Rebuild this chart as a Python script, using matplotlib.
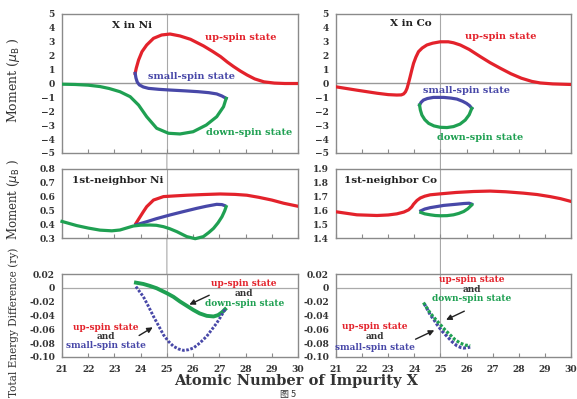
import matplotlib
matplotlib.use("Agg")
import matplotlib.pyplot as plt
from matplotlib.patches import ConnectionPatch

RED = "#e3222b"
BLUE = "#4848a8"
GREEN = "#1fa052"

# ---- X in Ni (impurity moment) ----
ni_up_x = [23.79, 23.83, 23.92, 24.05, 24.23, 24.49, 24.8, 25.12, 25.5, 25.9, 26.4, 26.75, 27.05, 27.3, 27.55, 27.8, 28.06, 28.35, 28.7, 29.1, 29.5, 30.0]
ni_up_y = [0.73, 1.09, 1.69, 2.29, 2.77, 3.25, 3.49, 3.56, 3.42, 3.18, 2.7, 2.3, 1.93, 1.55, 1.21, 0.9, 0.61, 0.33, 0.12, 0.03, 0.0, 0.0]
ni_small_x = [23.79, 23.82, 23.87, 23.95, 24.1, 24.3, 24.7, 25.12, 25.7, 26.2, 26.6, 26.9, 27.1, 27.26]
ni_small_y = [0.73, 0.4, 0.1, -0.1, -0.25, -0.35, -0.42, -0.47, -0.53, -0.59, -0.66, -0.75, -0.9, -1.07]
ni_down_x = [21.0, 21.5, 22.0, 22.45, 22.8, 23.21, 23.6, 23.92, 24.23, 24.61, 25.06, 25.5, 26.0, 26.5, 26.9, 27.16, 27.26]
ni_down_y = [-0.05, -0.07, -0.12, -0.22, -0.36, -0.59, -0.95, -1.55, -2.39, -3.22, -3.58, -3.63, -3.47, -2.99, -2.39, -1.67, -1.07]

# ---- X in Co (impurity moment) ----
co_up_x = [21.0, 21.8, 22.57, 23.0, 23.33, 23.5, 23.59, 23.66, 23.72, 23.78, 23.84, 23.9, 23.97, 24.06, 24.16, 24.3, 24.48, 24.7, 24.99, 25.3, 25.5, 25.76, 26.1, 26.53, 26.9, 27.3, 27.7, 28.1, 28.5, 28.82, 29.3, 30.0]
co_up_y = [-0.24, -0.48, -0.7, -0.8, -0.83, -0.82, -0.75, -0.6, -0.35, 0.05, 0.49, 0.95, 1.45, 1.9, 2.29, 2.55, 2.77, 2.9, 3.0, 3.0, 2.93, 2.77, 2.45, 1.93, 1.5, 1.09, 0.7, 0.38, 0.15, 0.04, -0.03, -0.07]
co_small_x = [24.2, 24.26, 24.35, 24.5, 24.73, 25.12, 25.4, 25.63, 25.85, 26.0, 26.12, 26.2]
co_small_y = [-1.55, -1.35, -1.19, -1.08, -1.0, -1.0, -1.05, -1.12, -1.28, -1.43, -1.6, -1.79]
co_down_x = [24.2, 24.23, 24.29, 24.4, 24.55, 24.75, 24.99, 25.25, 25.5, 25.75, 25.95, 26.1, 26.2]
co_down_y = [-1.55, -1.9, -2.27, -2.6, -2.87, -3.05, -3.15, -3.17, -3.1, -2.92, -2.63, -2.25, -1.79]

# ---- 1st-neighbor Ni ----
nn_ni_up_x = [23.82, 23.9, 23.98, 24.1, 24.23, 24.49, 24.87, 25.3, 25.76, 26.4, 27.03, 27.6, 28.05, 28.5, 29.0, 29.45, 30.0]
nn_ni_up_y = [0.406, 0.43, 0.454, 0.49, 0.527, 0.575, 0.60, 0.605, 0.61, 0.615, 0.619, 0.616, 0.61, 0.595, 0.575, 0.552, 0.53]
nn_ni_small_x = [23.82, 24.0, 24.23, 24.6, 25.12, 25.6, 26.14, 26.5, 26.9, 27.1, 27.2]
nn_ni_small_y = [0.395, 0.405, 0.418, 0.44, 0.467, 0.49, 0.515, 0.53, 0.544, 0.542, 0.535]
nn_ni_down_x = [21.0, 21.56, 22.0, 22.45, 22.9, 23.21, 23.72, 24.0, 24.36, 24.6, 24.87, 25.1, 25.38, 25.6, 25.76, 26.08, 26.39, 26.6, 26.78, 26.95, 27.1, 27.2, 27.26]
nn_ni_down_y = [0.42, 0.39, 0.372, 0.357, 0.352, 0.358, 0.387, 0.393, 0.394, 0.392, 0.382, 0.368, 0.346, 0.325, 0.31, 0.295, 0.31, 0.34, 0.37, 0.41, 0.454, 0.495, 0.527]

# ---- 1st-neighbor Co ----
nn_co_up_x = [21.0, 21.8, 22.57, 23.0, 23.33, 23.6, 23.78, 23.9, 23.97, 24.1, 24.23, 24.4, 24.61, 25.0, 25.6, 26.27, 26.9, 27.5, 28.18, 28.7, 29.2, 29.6, 30.0]
nn_co_up_y = [1.59, 1.568, 1.563, 1.567, 1.575, 1.588, 1.604, 1.625, 1.645, 1.672, 1.69, 1.703, 1.713, 1.72, 1.73, 1.737, 1.74, 1.735, 1.725, 1.715, 1.70, 1.685, 1.665]
nn_co_small_x = [24.25, 24.4, 24.61, 24.9, 25.12, 25.4, 25.63, 25.9, 26.1, 26.2]
nn_co_small_y = [1.597, 1.61, 1.62, 1.629, 1.636, 1.641, 1.645, 1.65, 1.652, 1.645]
nn_co_down_x = [24.25, 24.4, 24.61, 24.8, 25.0, 25.25, 25.5, 25.7, 25.89, 26.05, 26.2]
nn_co_down_y = [1.585, 1.575, 1.568, 1.563, 1.561, 1.562, 1.568, 1.578, 1.592, 1.612, 1.64]

# ---- Total energy difference, Ni host ----
en_ni_down_x = [23.82, 24.1, 24.35, 24.61, 25.0, 25.25, 25.5, 25.76, 26.01, 26.25, 26.52, 26.78, 26.95, 27.1, 27.22]
en_ni_down_y = [0.0075, 0.0056, 0.0028, -0.0006, -0.0078, -0.013, -0.0198, -0.026, -0.032, -0.037, -0.0405, -0.0414, -0.0395, -0.0355, -0.031]
en_ni_small_x = [23.82, 23.95, 24.1, 24.3, 24.49, 24.7, 24.87, 25.05, 25.25, 25.45, 25.63, 25.82, 26.01, 26.25, 26.52, 26.7, 26.9, 27.05, 27.22]
en_ni_small_y = [0.0018, -0.005, -0.0126, -0.027, -0.0414, -0.056, -0.068, -0.077, -0.0846, -0.0885, -0.0904, -0.0895, -0.087, -0.08, -0.070, -0.061, -0.051, -0.042, -0.031]

# ---- Total energy difference, Co host ----
en_co_down_x = [24.35, 24.48, 24.61, 24.8, 25.0, 25.18, 25.37, 25.56, 25.76, 25.95, 26.14]
en_co_down_y = [-0.0213, -0.029, -0.0366, -0.045, -0.0534, -0.061, -0.068, -0.075, -0.080, -0.0828, -0.0837]
en_co_small_x = [24.38, 24.5, 24.61, 24.75, 24.87, 25.05, 25.25, 25.45, 25.63, 25.78, 25.89, 26.02, 26.14]
en_co_small_y = [-0.023, -0.031, -0.039, -0.046, -0.053, -0.062, -0.070, -0.078, -0.0837, -0.0862, -0.087, -0.0865, -0.0856]

x_ticks = [21, 22, 23, 24, 25, 26, 27, 28, 29, 30]
top_yticks = [-5, -4, -3, -2, -1, 0, 1, 2, 3, 4, 5]
nn_ni_yticks = [0.3, 0.4, 0.5, 0.6, 0.7, 0.8]
nn_co_yticks = [1.4, 1.5, 1.6, 1.7, 1.8, 1.9]
en_yticks = [-0.10, -0.08, -0.06, -0.04, -0.02, 0, 0.02]
en_yticklabels = ["-0.10", "-0.08", "-0.06", "-0.04", "-0.02", "0", "0.02"]

plt.rcParams['font.family'] = ['DejaVu Serif']
FS_TICK = 6.6
FS_TXT = 7

fig = plt.figure(figsize=(5.77, 3.99), dpi=100)
W, H = 577.0, 399.0

def make_ax(l, r, t, b):
    return fig.add_axes([l / W, 1 - b / H, (r - l) / W, (b - t) / H])

axL = [make_ax(62, 298, 14, 153), make_ax(62, 298, 169, 238), make_ax(62, 298, 274, 357)]
axR = [make_ax(336, 571, 14, 153), make_ax(336, 571, 169, 238), make_ax(336, 571, 274, 357)]

LW = 2.3
for ax in axL + axR:
    ax.set_xlim(21, 30)
    ax.set_xticks(x_ticks)
    for s in ax.spines.values():
        s.set_color("#8a8a8a")
        s.set_linewidth(1.0)
    ax.tick_params(axis='x', direction='in', length=3, color="#8a8a8a", labelsize=FS_TICK, pad=6)
    ax.tick_params(axis='y', length=0, labelsize=FS_TICK, pad=5)
    ax.axvline(25, color="#a8a8a8", lw=0.8, zorder=1)

for ax in axL[:2] + axR[:2]:
    ax.tick_params(axis='x', labelbottom=False)

def style_labels(ax):
    for lab in ax.get_xticklabels() + ax.get_yticklabels():
        lab.set_fontweight('bold')
        lab.set_color("#333333")

# top panels
for ax in (axL[0], axR[0]):
    ax.set_ylim(-5, 5)
    ax.set_yticks(top_yticks)
    ax.axhline(0, color="#999999", lw=1.0, zorder=1)

a = axL[0]
a.plot(ni_up_x, ni_up_y, color=RED, lw=LW, zorder=3)
a.plot(ni_small_x, ni_small_y, color=BLUE, lw=LW, zorder=3)
a.plot(ni_down_x, ni_down_y, color=GREEN, lw=LW, zorder=3)
a.text(22.9, 4.2, "X in Ni", fontsize=FS_TXT + 0.5, fontweight='bold', color="#222222", va='center')
a.text(27.8, 3.32, "up-spin state", fontsize=FS_TXT, fontweight='bold', color=RED, ha='center', va='center')
a.text(25.95, 0.48, "small-spin state", fontsize=FS_TXT, fontweight='bold', color=BLUE, ha='center', va='center')
a.text(28.15, -3.56, "down-spin state", fontsize=FS_TXT, fontweight='bold', color=GREEN, ha='center', va='center')

a = axR[0]
a.plot(co_up_x, co_up_y, color=RED, lw=LW, zorder=3)
a.plot(co_small_x, co_small_y, color=BLUE, lw=LW, zorder=3)
a.plot(co_down_x, co_down_y, color=GREEN, lw=LW, zorder=3)
a.text(23.08, 4.33, "X in Co", fontsize=FS_TXT + 0.5, fontweight='bold', color="#222222", va='center')
a.text(27.32, 3.37, "up-spin state", fontsize=FS_TXT, fontweight='bold', color=RED, ha='center', va='center')
a.text(26.01, -0.53, "small-spin state", fontsize=FS_TXT, fontweight='bold', color=BLUE, ha='center', va='center')
a.text(26.52, -3.92, "down-spin state", fontsize=FS_TXT, fontweight='bold', color=GREEN, ha='center', va='center')

# middle panels
a = axL[1]
a.set_ylim(0.3, 0.8)
a.set_yticks(nn_ni_yticks)
a.plot(nn_ni_up_x, nn_ni_up_y, color=RED, lw=LW, zorder=3)
a.plot(nn_ni_small_x, nn_ni_small_y, color=BLUE, lw=LW, zorder=3)
a.plot(nn_ni_down_x, nn_ni_down_y, color=GREEN, lw=LW, zorder=3, clip_on=False)
a.text(21.37, 0.72, "1st-neighbor Ni", fontsize=FS_TXT + 0.5, fontweight='bold', color="#222222", va='center')

a = axR[1]
a.set_ylim(1.4, 1.9)
a.set_yticks(nn_co_yticks)
a.plot(nn_co_up_x, nn_co_up_y, color=RED, lw=LW, zorder=3)
a.plot(nn_co_small_x, nn_co_small_y, color=BLUE, lw=LW, zorder=3)
a.plot(nn_co_down_x, nn_co_down_y, color=GREEN, lw=LW, zorder=3)
a.text(21.29, 1.82, "1st-neighbor Co", fontsize=FS_TXT + 0.5, fontweight='bold', color="#222222", va='center')

# bottom panels
for ax in (axL[2], axR[2]):
    ax.set_ylim(-0.10, 0.02)
    ax.set_yticks(en_yticks)
    ax.set_yticklabels(en_yticklabels)
    ax.axhline(0, color="#aaaaaa", lw=0.9, zorder=1)

def three_line(ax, x, ys, colors, texts):
    for y, c, t in zip(ys, colors, texts):
        ax.text(x, y, t, fontsize=FS_TXT - 0.5, fontweight='bold', color=c, ha='center', va='center')

a = axL[2]
a.plot(en_ni_down_x, en_ni_down_y, color=GREEN, lw=LW + 0.5, zorder=3)
a.plot(en_ni_small_x, en_ni_small_y, color=BLUE, lw=LW - 0.2, zorder=3, ls=(0, (0.9, 0.55)))
three_line(a, 27.95, [0.0056, -0.0088, -0.023], [RED, "#333333", GREEN],
           ["up-spin state", "and", "down-spin state"])
a.annotate("", xy=(25.76, -0.026), xytext=(26.71, -0.009),
           arrowprops=dict(arrowstyle="-|>", color="#222222", lw=1.0, mutation_scale=8))
three_line(a, 22.68, [-0.057, -0.070, -0.0837], [RED, "#333333", BLUE],
           ["up-spin state", "and", "small-spin state"])
a.annotate("", xy=(24.55, -0.055), xytext=(23.85, -0.071),
           arrowprops=dict(arrowstyle="-|>", color="#222222", lw=1.0, mutation_scale=8))

a = axR[2]
a.plot(en_co_small_x, en_co_small_y, color=BLUE, lw=LW, zorder=3, ls=(0, (0.9, 0.55)))
a.plot(en_co_down_x, en_co_down_y, color=GREEN, lw=LW, zorder=3, ls=(0, (0.9, 0.55)))
three_line(a, 26.2, [0.0114, -0.002, -0.015], [RED, "#333333", GREEN],
           ["up-spin state", "and", "down-spin state"])
a.annotate("", xy=(25.12, -0.048), xytext=(26.01, -0.032),
           arrowprops=dict(arrowstyle="-|>", color="#222222", lw=1.0, mutation_scale=8))
three_line(a, 22.48, [-0.056, -0.071, -0.0856], [RED, "#333333", BLUE],
           ["up-spin state", "and", "small-spin state"])
a.annotate("", xy=(24.86, -0.0597), xytext=(23.95, -0.076),
           arrowprops=dict(arrowstyle="-|>", color="#222222", lw=1.0, mutation_scale=8))

for ax in axL + axR:
    style_labels(ax)

# vertical guide line at x = 25 through the gaps of each column
for top, bot in ((axL[0], axL[2]), (axR[0], axR[2])):
    cp = ConnectionPatch(xyA=(25, 5), coordsA=top.transData, xyB=(25, -0.10), coordsB=bot.transData,
                         color="#a8a8a8", lw=0.8, zorder=0)
    fig.add_artist(cp)

# axis labels
fig.text(14 / W, 1 - 80 / H, r"Moment ($\mu_{\rm B}$ )", rotation=90, fontsize=9,
         ha='center', va='center', color="#333333")
fig.text(14 / W, 1 - 200 / H, r"Moment ($\mu_{\rm B}$ )", rotation=90, fontsize=8.5,
         ha='center', va='center', color="#333333")
fig.text(14 / W, 1 - 322 / H, "Total Energy Difference (ry)", rotation=90, fontsize=7.6,
         ha='center', va='center', color="#333333")
fig.text(296 / W, 1 - 381 / H, "Atomic Number of Impurity X", fontsize=10.5, fontweight='bold',
         ha='center', va='center', color="#333333")
fig.text(288 / W, 1 - 398.5 / H, "图 5", fontsize=6.5, ha='center', va='bottom', color="#333333",
         family=['Noto Sans CJK SC', 'DejaVu Sans'])

fig.savefig("out.png", dpi=100)
